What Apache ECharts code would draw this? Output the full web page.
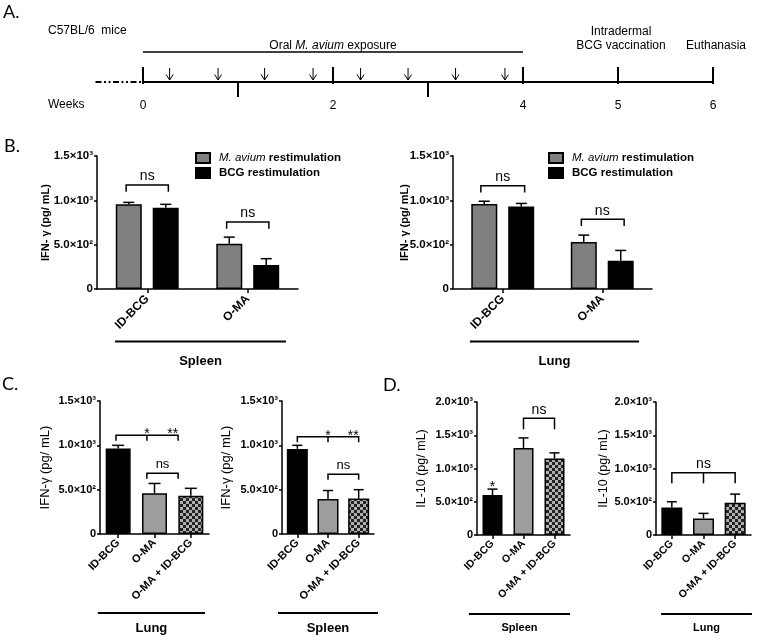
<!DOCTYPE html>
<html><head><meta charset="utf-8">
<script src="https://cdn.jsdelivr.net/npm/echarts@6/dist/echarts.min.js"></script>
<style>html,body{margin:0;padding:0;background:#fff}#c{width:757px;height:641px}</style>
</head><body><div id="c"></div>
<script>
// ================= DATA =================
// Panel A timeline (weeks)
const leadInWeeks = [-0.5, 0];
const timelineSpan = [0, 6];
const majorWeeks = [0, 2, 4, 5, 6];
const weekLabels = ['0', '2', '4', '5', '6'];
const minorWeeks = [1, 3];
const doseWeeks = [0.28, 0.79, 1.28, 1.79, 2.29, 2.79, 3.29, 3.81];
const exposureSpan = [0, 4];
const eventWeeks = [5, 6];
const eventLabels = ['Intradermal\nBCG vaccination', 'Euthanasia'];

// Panel B
const bCategories = ['ID-BCG', 'O-MA'];
const bSeriesNames = ['M. avium restimulation', 'BCG restimulation'];
const bSpleenMav = [955, 510];
const bSpleenMavErr = [22, 75];
const bSpleenBcg = [915, 270];
const bSpleenBcgErr = [40, 72];
const bLungMav = [960, 530];
const bLungMavErr = [30, 78];
const bLungBcg = [930, 320];
const bLungBcgErr = [35, 115];
// brackets: [from, to, middle leg, y]
const bSpleenBrackets = [[-0.21, 0.21, null, 1173], [0.79, 1.21, null, 756]];
const bSpleenTexts = [[0, 1173, 'ns'], [1, 756, 'ns']];
const bLungBrackets = [[-0.22, 0.22, null, 1165], [0.79, 1.22, null, 786]];
const bLungTexts = [[0, 1165, 'ns'], [1, 786, 'ns']];

// Panels C and D
const cdCategories = ['ID-BCG', 'O-MA', 'O-MA + ID-BCG'];
const cLungIfn = [965, 460, 430];
const cLungIfnErr = [35, 110, 85];
const cLungBrackets = [[-0.06, 1.65, 0.79, 1113], [0.79, 1.65, null, 684]];
const cLungTexts = [[0.79, 1113, '*'], [1.5, 1113, '**'], [1.22, 684, 'ns']];
const cSpleenIfn = [960, 395, 400];
const cSpleenIfnErr = [40, 95, 100];
const cSpleenBrackets = [[0, 2, 1, 1097], [1, 2, null, 673]];
const cSpleenTexts = [[1, 1097, '*'], [1.82, 1097, '**'], [1.5, 673, 'ns']];
const dSpleenIl10 = [600, 1310, 1150];
const dSpleenIl10Err = [90, 150, 85];
const dSpleenBrackets = [[1, 2, null, 1755]];
const dSpleenTexts = [[0, 712, '*'], [1.5, 1755, 'ns']];
const dLungIl10 = [415, 250, 485];
const dLungIl10Err = [85, 75, 130];
const dLungBrackets = [[0, 2, 1, 937]];
const dLungTexts = [[1, 937, 'ns']];

// Tick labels
const ifnTickLabels = ['0', '5.0×10²', '1.0×10³', '1.5×10³'];
const il10TickLabels = ['0', '5.0×10²', '1.0×10³', '1.5×10³', '2.0×10³'];

// ================= STYLE / HELPERS =================
const FONT = '"Liberation Sans", Arial, sans-serif';
function checker() {
  const c = document.createElement('canvas'); c.width = 6; c.height = 6;
  const g = c.getContext('2d');
  g.fillStyle = '#b0b0b0'; g.fillRect(0, 0, 6, 6);
  g.fillStyle = '#222'; g.fillRect(0, 0, 3, 3); g.fillRect(3, 3, 3, 3);
  return c;
}
const cdColors = ['#000', '#9d9d9d', { image: checker(), repeat: 'repeat' }];

function xAt(api, v, y) {
  const a = api.coord([0, y]), b = api.coord([1, y]);
  return [a[0] + (b[0] - a[0]) * v, a[1]];
}

const gridBase = { containLabel: false, outerBoundsMode: 'none' };
const grids = [
  Object.assign({ left: 95.5, top: 30, width: 617.5, height: 52 }, gridBase),
  Object.assign({ left: 97, top: 156, width: 201, height: 133 }, gridBase),
  Object.assign({ left: 453, top: 156, width: 199, height: 133 }, gridBase),
  Object.assign({ left: 100, top: 401, width: 109, height: 133 }, gridBase),
  Object.assign({ left: 282, top: 401, width: 92, height: 133 }, gridBase),
  Object.assign({ left: 477, top: 402, width: 93, height: 133 }, gridBase),
  Object.assign({ left: 656, top: 402, width: 95, height: 133 }, gridBase)
];

function catX(gi, cats, fontSize, margin) {
  return {
    type: 'category', gridIndex: gi, data: cats, boundaryGap: true,
    axisLine: { show: true, onZero: false, lineStyle: { color: '#000', width: 1.5 } },
    axisTick: { show: true, alignWithLabel: true, length: 4, lineStyle: { color: '#000', width: 1.5 } },
    axisLabel: { rotate: 45, interval: 0, color: '#000', fontWeight: 'bold', fontSize, fontFamily: FONT, margin, hideOverlap: false },
    splitLine: { show: false }
  };
}
function valY(gi, max, labels, name, o) {
  return {
    type: 'value', gridIndex: gi, min: 0, max, interval: 500,
    name, nameLocation: 'middle', nameGap: o.gap, nameMoveOverlap: false,
    nameTextStyle: { color: '#000', fontFamily: FONT, fontSize: o.size, fontWeight: o.weight },
    axisLine: { show: true, lineStyle: { color: '#000', width: 1.5 } },
    axisTick: { show: true, length: 3, lineStyle: { color: '#000', width: 1.5 } },
    splitLine: { show: false },
    axisLabel: { color: '#000', fontWeight: 'bold', fontSize: o.tick, fontFamily: FONT, margin: 4,
      formatter: v => labels[Math.round(v / 500)] }
  };
}

function errorSeries(gi, vals, errs, offset, cap) {
  return {
    type: 'custom', xAxisIndex: gi, yAxisIndex: gi, clip: false, silent: true, z: 5,
    data: vals.map((v, i) => [i, v, errs[i]]),
    renderItem: (params, api) => {
      const i = api.value(0), v = api.value(1), e = api.value(2);
      const p0 = api.coord([i, v]), p1 = api.coord([i, v + e]);
      const x = p0[0] + offset;
      return { type: 'group', children: [
        { type: 'line', shape: { x1: x, y1: p0[1], x2: x, y2: p1[1] }, style: { stroke: '#000', lineWidth: 1.5 } },
        { type: 'line', shape: { x1: x - cap / 2, y1: p1[1], x2: x + cap / 2, y2: p1[1] }, style: { stroke: '#000', lineWidth: 1.5 } }
      ] };
    }
  };
}
function bracketSeries(gi, list, legPx) {
  return {
    type: 'custom', xAxisIndex: gi, yAxisIndex: gi, clip: false, silent: true, z: 6,
    data: list.map(b => [0, b[3]]),
    renderItem: (params, api) => {
      const b = list[params.dataIndex];
      const a = xAt(api, b[0], b[3]), c = xAt(api, b[1], b[3]);
      const kids = [{ type: 'polyline', shape: { points: [[a[0], a[1] + legPx], [a[0], a[1]], [c[0], c[1]], [c[0], c[1] + legPx]] },
        style: { stroke: '#000', lineWidth: 1.5, fill: null } }];
      if (b[2] != null) {
        const m = xAt(api, b[2], b[3]);
        kids.push({ type: 'line', shape: { x1: m[0], y1: m[1], x2: m[0], y2: m[1] + legPx }, style: { stroke: '#000', lineWidth: 1.5 } });
      }
      return { type: 'group', children: kids };
    }
  };
}
function textSeries(gi, list, nsSize) {
  return {
    type: 'custom', xAxisIndex: gi, yAxisIndex: gi, clip: false, silent: true, z: 6,
    data: list.map(t => [0, t[1]]),
    renderItem: (params, api) => {
      const t = list[params.dataIndex];
      const p = xAt(api, t[0], t[1]);
      const star = t[2].indexOf('*') >= 0;
      return { type: 'text', style: { text: t[2], x: p[0], y: p[1] + (star ? -1 : -8.5), align: 'center', verticalAlign: 'middle',
        fill: '#000', fontSize: star ? 14 : nsSize, fontFamily: FONT } };
    }
  };
}
function underlineSeries(gi, span, text, lineDy, textDy, fontSize) {
  return {
    type: 'custom', xAxisIndex: gi, yAxisIndex: gi, clip: false, silent: true,
    data: [[0, 0]],
    renderItem: (params, api) => {
      const a = xAt(api, span[0], 0), b = xAt(api, span[1], 0);
      return { type: 'group', children: [
        { type: 'line', shape: { x1: a[0], y1: a[1] + lineDy, x2: b[0], y2: a[1] + lineDy }, style: { stroke: '#000', lineWidth: 2 } },
        { type: 'text', style: { text, x: (a[0] + b[0]) / 2, y: a[1] + textDy, align: 'center', verticalAlign: 'middle',
          fill: '#000', fontSize, fontWeight: 'bold', fontFamily: FONT } }
      ] };
    }
  };
}
function cdBars(gi, vals, width) {
  return {
    type: 'bar', xAxisIndex: gi, yAxisIndex: gi, barWidth: width, silent: true,
    data: vals.map((v, i) => ({ value: v, itemStyle: { color: cdColors[i] } })),
    itemStyle: { borderColor: '#000', borderWidth: 1.5 }
  };
}

function renderTimeline(params, api) {
  const P = w => api.coord([w, 0]);
  const y0 = P(0)[1];
  const kids = [];
  const L = (x1, y1, x2, y2, w, dash) => kids.push({ type: 'line', shape: { x1, y1, x2, y2 }, style: { stroke: '#000', lineWidth: w, lineDash: dash || null } });
  const T = (text, x, y, align, vAlign) => kids.push({ type: 'text', style: { text, x, y, align, verticalAlign: vAlign || 'middle', fill: '#000', fontSize: 12, fontFamily: FONT, lineHeight: 14 } });
  L(P(leadInWeeks[0])[0], y0, P(leadInWeeks[1])[0], y0, 2, [6, 2.5, 2, 2.5, 2, 2.5]);
  L(P(timelineSpan[0])[0], y0, P(timelineSpan[1])[0], y0, 2.2);
  majorWeeks.forEach((w, i) => { const x = P(w)[0]; L(x, y0 - 15, x, y0 + 2, 2); T(weekLabels[i], x, y0 + 24, 'center'); });
  minorWeeks.forEach(w => { const x = P(w)[0]; L(x, y0, x, y0 + 15, 2); });
  doseWeeks.forEach(w => {
    const x = P(w)[0];
    L(x, y0 - 14, x, y0 - 2, 1);
    kids.push({ type: 'polyline', shape: { points: [[x - 3.5, y0 - 7.5], [x, y0 - 2], [x + 3.5, y0 - 7.5]] }, style: { stroke: '#000', lineWidth: 1, fill: null } });
  });
  const ex0 = P(exposureSpan[0])[0], ex1 = P(exposureSpan[1])[0];
  L(ex0, y0 - 30, ex1, y0 - 30, 1.5);
  kids.push({ type: 'text', style: { text: 'Oral {i|M. avium} exposure', rich: { i: { fontStyle: 'italic', fontSize: 12, fontFamily: FONT, fill: '#000' } },
    x: (ex0 + ex1) / 2, y: y0 - 36, align: 'center', verticalAlign: 'middle', fill: '#000', fontSize: 12, fontFamily: FONT } });
  eventWeeks.forEach((w, i) => T(eventLabels[i], P(w)[0] + 3, y0 - 29, 'center', 'bottom'));
  return { type: 'group', children: kids };
}

const legendText = {
  color: '#000', fontWeight: 'bold', fontSize: 11.5, fontFamily: FONT, padding: [0, 0, 0, 4],
  rich: { i: { fontStyle: 'italic', fontWeight: 'normal', fontSize: 11.5, fontFamily: FONT, color: '#000' } }
};
const legendFmt = n => n.indexOf('M. avium') === 0 ? '{i|M. avium} restimulation' : n;
function legend(left) {
  return { data: bSeriesNames, left, top: 152, orient: 'vertical', itemWidth: 14, itemHeight: 10, itemGap: 3, icon: 'rect',
    selectedMode: false, textStyle: legendText, formatter: legendFmt, padding: 0 };
}

const chart = echarts.init(document.getElementById('c'), null, { renderer: 'canvas' });
chart.setOption({
  animation: false,
  backgroundColor: '#fff',
  grid: grids,
  legend: [legend(195), legend(548)],
  xAxis: [
    { type: 'value', gridIndex: 0, min: -0.5, max: 6, show: false },
    catX(1, bCategories, 12, 8), catX(2, bCategories, 12, 8),
    catX(3, cdCategories, 11, 7), catX(4, cdCategories, 11, 7),
    catX(5, cdCategories, 10.5, 7), catX(6, cdCategories, 10.5, 7)
  ],
  yAxis: [
    { type: 'value', gridIndex: 0, min: 0, max: 1, show: false },
    valY(1, 1500, ifnTickLabels, 'IFN- γ (pg/ mL)', { gap: 46, size: 11, weight: 'bold', tick: 11.5 }),
    valY(2, 1500, ifnTickLabels, 'IFN- γ (pg/ mL)', { gap: 43, size: 11, weight: 'bold', tick: 11.5 }),
    valY(3, 1500, ifnTickLabels, 'IFN-γ (pg/ mL)', { gap: 48, size: 13, weight: 'normal', tick: 11 }),
    valY(4, 1500, ifnTickLabels, 'IFN-γ (pg/ mL)', { gap: 49, size: 13, weight: 'normal', tick: 11 }),
    valY(5, 2000, il10TickLabels, 'IL-10 (pg/ mL)', { gap: 49, size: 12.5, weight: 'normal', tick: 11 }),
    valY(6, 2000, il10TickLabels, 'IL-10 (pg/ mL)', { gap: 46, size: 12.5, weight: 'normal', tick: 11 })
  ],
  graphic: [
    { type: 'text', left: 3, top: 3, style: { text: 'A.', fontSize: 18, fontFamily: 'Lato, sans-serif', fill: '#000' } },
    { type: 'text', left: 4, top: 137, style: { text: 'B.', fontSize: 18, fontFamily: 'Lato, sans-serif', fill: '#000' } },
    { type: 'text', left: 2, top: 375, style: { text: 'C.', fontSize: 18, fontFamily: 'Lato, sans-serif', fill: '#000' } },
    { type: 'text', left: 383, top: 376, style: { text: 'D.', fontSize: 18, fontFamily: 'Lato, sans-serif', fill: '#000' } },
    { type: 'text', left: 48, top: 25, style: { text: 'C57BL/6  mice', fontSize: 12, fontFamily: FONT, fill: '#000' } },
    { type: 'text', left: 48, top: 99, style: { text: 'Weeks', fontSize: 12, fontFamily: FONT, fill: '#000' } }
  ],
  series: [
    { type: 'custom', xAxisIndex: 0, yAxisIndex: 0, clip: false, silent: true, data: [[0, 0]], renderItem: renderTimeline },

    { type: 'bar', name: bSeriesNames[0], xAxisIndex: 1, yAxisIndex: 1, data: bSpleenMav, barWidth: 26, barGap: '42%',
      itemStyle: { color: '#7f7f7f', borderColor: '#000', borderWidth: 1.5 } },
    { type: 'bar', name: bSeriesNames[1], xAxisIndex: 1, yAxisIndex: 1, data: bSpleenBcg, barWidth: 26, barGap: '42%',
      itemStyle: { color: '#000', borderColor: '#000', borderWidth: 1.5 } },
    errorSeries(1, bSpleenMav, bSpleenMavErr, -18.5, 11),
    errorSeries(1, bSpleenBcg, bSpleenBcgErr, 18.5, 11),
    bracketSeries(1, bSpleenBrackets, 6.7),
    textSeries(1, bSpleenTexts, 14),
    underlineSeries(1, [-0.32, 1.38], 'Spleen', 52.5, 72, 13),

    { type: 'bar', name: bSeriesNames[0], xAxisIndex: 2, yAxisIndex: 2, data: bLungMav, barWidth: 26, barGap: '42%',
      itemStyle: { color: '#7f7f7f', borderColor: '#000', borderWidth: 1.5 } },
    { type: 'bar', name: bSeriesNames[1], xAxisIndex: 2, yAxisIndex: 2, data: bLungBcg, barWidth: 26, barGap: '42%',
      itemStyle: { color: '#000', borderColor: '#000', borderWidth: 1.5 } },
    errorSeries(2, bLungMav, bLungMavErr, -18.5, 11),
    errorSeries(2, bLungBcg, bLungBcgErr, 18.5, 11),
    bracketSeries(2, bLungBrackets, 6.7),
    textSeries(2, bLungTexts, 14),
    underlineSeries(2, [-0.33, 1.37], 'Lung', 52.5, 72, 13),

    cdBars(3, cLungIfn, 25),
    errorSeries(3, cLungIfn, cLungIfnErr, 0, 12),
    bracketSeries(3, cLungBrackets, 5.4),
    textSeries(3, cLungTexts, 13),
    underlineSeries(3, [-0.56, 2.39], 'Lung', 79, 94, 13),

    cdBars(4, cSpleenIfn, 21),
    errorSeries(4, cSpleenIfn, cSpleenIfnErr, 0, 10),
    bracketSeries(4, cSpleenBrackets, 5.4),
    textSeries(4, cSpleenTexts, 13),
    underlineSeries(4, [-0.63, 2.63], 'Spleen', 79, 94, 13),

    cdBars(5, dSpleenIl10, 20),
    errorSeries(5, dSpleenIl10, dSpleenIl10Err, 0, 10),
    bracketSeries(5, dSpleenBrackets, 11),
    textSeries(5, dSpleenTexts, 14),
    underlineSeries(5, [-0.76, 2.5], 'Spleen', 79, 93, 11),

    cdBars(6, dLungIl10, 21),
    errorSeries(6, dLungIl10, dLungIl10Err, 0, 10),
    bracketSeries(6, dLungBrackets, 10.6),
    textSeries(6, dLungTexts, 14),
    underlineSeries(6, [-0.34, 2.53], 'Lung', 79, 93, 11)
  ]
});
</script></body></html>
